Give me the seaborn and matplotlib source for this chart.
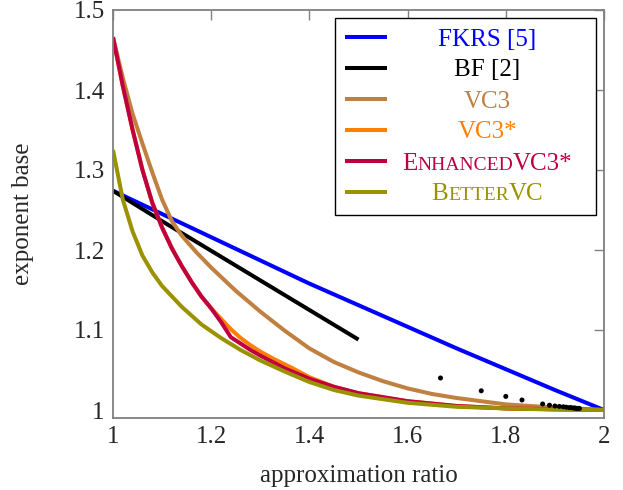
import matplotlib
matplotlib.use("Agg")
import matplotlib.pyplot as plt
import matplotlib.ticker as ticker
import pandas as pd
import seaborn as sns

# curves (approximation ratio -> exponent base)
fkrs_x = [1.0, 1.1, 1.2, 1.3, 1.4, 1.5, 1.6, 1.7, 1.8, 1.9, 2.0]
fkrs_y = [1.274, 1.245, 1.216, 1.187, 1.158, 1.131, 1.104, 1.077, 1.051, 1.025, 1.0]

bf_x = [1.0, 1.1, 1.2, 1.3, 1.4, 1.5]
bf_y = [1.274, 1.236, 1.199, 1.162, 1.125, 1.088]

vc3_x = [1.0, 1.02, 1.04, 1.06, 1.08, 1.1, 1.12, 1.14, 1.17, 1.2, 1.25, 1.3, 1.35,
         1.4, 1.45, 1.5, 1.55, 1.6, 1.65, 1.7, 1.8, 1.9, 2.0]
vc3_y = [1.466, 1.415, 1.370, 1.333, 1.297, 1.263, 1.236, 1.218, 1.197, 1.178, 1.149,
         1.123, 1.099, 1.077, 1.060, 1.047, 1.036, 1.027, 1.02, 1.015, 1.007, 1.003, 1.0]

vc3s_x = [1.0, 1.02, 1.04, 1.06, 1.08, 1.1, 1.12, 1.14, 1.16, 1.18, 1.2, 1.22, 1.24,
          1.26, 1.28, 1.3, 1.33, 1.36, 1.4, 1.45, 1.5, 1.6, 1.7, 1.8, 2.0]
vc3s_y = [1.466, 1.405, 1.350, 1.300, 1.259, 1.228, 1.202, 1.180, 1.160, 1.142, 1.127,
          1.114, 1.101, 1.09, 1.081, 1.073, 1.063, 1.054, 1.041, 1.029, 1.021, 1.011,
          1.005, 1.002, 1.0]

enh_x = [1.0, 1.02, 1.04, 1.06, 1.08, 1.1, 1.12, 1.14, 1.16, 1.18, 1.2, 1.22, 1.24,
         1.26, 1.28, 1.3, 1.35, 1.4, 1.45, 1.5, 1.6, 1.7, 1.8, 2.0]
enh_y = [1.466, 1.405, 1.350, 1.300, 1.259, 1.228, 1.202, 1.180, 1.160, 1.142, 1.127,
         1.11, 1.091, 1.083, 1.075, 1.068, 1.052, 1.039, 1.029, 1.021, 1.011, 1.005,
         1.002, 1.0]

better_x = [1.0, 1.02, 1.04, 1.06, 1.08, 1.1, 1.14, 1.18, 1.22, 1.26, 1.3, 1.35, 1.4,
            1.45, 1.5, 1.6, 1.7, 1.8, 1.9, 2.0]
better_y = [1.325, 1.263, 1.223, 1.193, 1.172, 1.155, 1.129, 1.107, 1.09, 1.075, 1.062,
            1.048, 1.035, 1.025, 1.018, 1.009, 1.004, 1.002, 1.0005, 1.0]

# isolated points (black dots)
dots_x = [1.667, 1.75, 1.8, 1.833, 1.875, 1.889, 1.9, 1.909, 1.917, 1.923, 1.929,
          1.933, 1.938, 1.941, 1.944, 1.947, 1.95]
dots_y = [1.04, 1.024, 1.017, 1.0125, 1.0075, 1.006, 1.005, 1.0045, 1.004, 1.0035,
          1.003, 1.003, 1.0025, 1.0025, 1.002, 1.002, 1.002]

x_ticks = [1, 1.2, 1.4, 1.6, 1.8, 2]
y_ticks = [1, 1.1, 1.2, 1.3, 1.4, 1.5]

series = [
    ("FKRS [5]", fkrs_x, fkrs_y, "#0000ff", None),
    ("BF [2]", bf_x, bf_y, "#000000", None),
    ("VC3", vc3_x, vc3_y, "#bf8040", None),
    ("VC3*", vc3s_x, vc3s_y, "#ff8000", None),
    ("ENHANCEDVC3*", enh_x, enh_y, "#bf0040", ["E", "NHANCED", "VC3*"]),
    ("BETTERVC", better_x, better_y, "#9a9200", ["B", "ETTER", "VC"]),
]

sns.set_style("white")
plt.rcParams["font.family"] = ["Liberation Serif", "DejaVu Serif"]

fig = plt.figure(figsize=(6.23, 4.9), dpi=100)
ax = fig.add_axes([113 / 623, 1 - 418 / 490, 491 / 623, 408 / 490])

grey = "#808080"
fs = 18

for name, xs, ys, col, _ in series:
    df = pd.DataFrame({"x": xs, "y": ys})
    sns.lineplot(data=df, x="x", y="y", ax=ax, color=col, linewidth=2.9,
                 label="ENHANCEDVC3*", solid_capstyle="butt")

dots = pd.DataFrame({"x": dots_x, "y": dots_y})
sns.scatterplot(data=dots, x="x", y="y", ax=ax, color="black", s=13,
                edgecolor="none", zorder=5)

ax.set_xlim(1, 2)
ax.set_ylim(0.99, 1.5)
ax.set_xticks(x_ticks)
ax.set_yticks(y_ticks)
ax.xaxis.set_major_formatter(ticker.FuncFormatter(lambda v, _: f"{v:g}"))
ax.yaxis.set_major_formatter(ticker.FuncFormatter(lambda v, _: f"{v:g}"))
ax.tick_params(direction="in", length=7, width=1, color=grey, labelsize=fs,
               top=True, right=True, pad=6)
for sp in ax.spines.values():
    sp.set_color(grey)
    sp.set_linewidth(1.3)

ax.set_xlabel("approximation ratio", fontsize=fs)
ax.set_ylabel("exponent base", fontsize=fs)
ax.xaxis.set_label_coords(0.5, -0.115)
ax.yaxis.set_label_coords(-0.16, 0.5)

# legend: invisible placeholders give the box, real centred coloured text on top
leg = ax.legend(loc="upper right", fontsize=fs, frameon=True, fancybox=False,
                edgecolor="black", framealpha=1, borderpad=0.4, labelspacing=0.34,
                handlelength=1.7, handletextpad=0.08, borderaxespad=0.32)
leg.get_frame().set_linewidth(1.0)

fig.canvas.draw()
r = fig.canvas.get_renderer()
slots = []
for t in leg.get_texts():
    bb = t.get_window_extent(r)
    by = t.get_transform().transform(t.get_position())[1]
    slots.append((bb.x0 + bb.width / 2, by))
    t.set_visible(False)

for (cx, by), (name, _, _, col, parts) in zip(slots, series):
    if parts is None:
        fig.text(cx, by, name, transform=None, ha="center", va="baseline",
                 fontsize=fs, color=col)
        continue
    sizes = [fs, fs * 0.78, fs]
    pieces = []
    for p, sz in zip(parts, sizes):
        pieces.append(fig.text(0, by, p, transform=None, ha="left", va="baseline",
                               fontsize=sz, color=col))
    widths = [p.get_window_extent(r).width for p in pieces]
    x0 = cx - sum(widths) / 2
    for p, w in zip(pieces, widths):
        p.set_x(x0)
        x0 += w

fig.savefig("out.png", dpi=100)
